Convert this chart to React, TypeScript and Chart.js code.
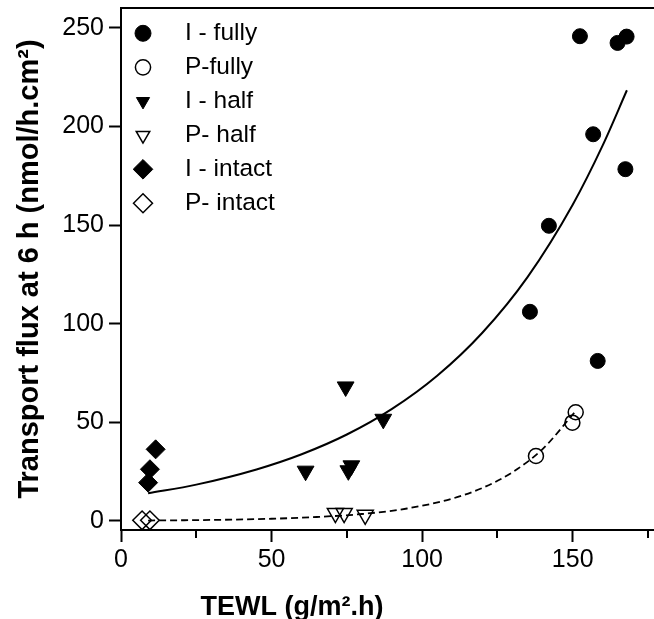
import React, { useEffect, useRef } from 'react';
import { Chart, registerables } from 'chart.js';

Chart.register(...registerables);

const FONT = "'Liberation Sans', Arial, Helvetica, sans-serif";

// ---- data ----
const iFullyX = [135.8, 142.1, 152.4, 156.8, 158.3, 164.9, 167.5, 167.9];
const iFullyY = [106.0, 149.6, 245.7, 196.0, 81.1, 242.3, 178.3, 245.5];
const pFullyX = [137.8, 149.9, 151.0];
const pFullyY = [32.9, 49.8, 55.1];
const iHalfX = [61.3, 74.6, 75.5, 76.5, 87.1];
const iHalfY = [25.3, 68.0, 25.5, 28.0, 51.6];
const pHalfX = [71.2, 74.1, 81.1];
const pHalfY = [3.9, 3.9, 3.0];
const iIntactX = [9.0, 9.6, 11.5];
const iIntactY = [19.4, 26.2, 36.3];
const pIntactX = [7.0, 9.6];
const pIntactY = [0.3, 0.3];

// fitted curves
const fitIX = [9, 25, 45, 60, 75, 90, 105, 120, 135, 150, 160, 168];
const fitIY = [14, 18.4, 26.1, 33.8, 43.8, 56.8, 73.6, 95.4, 123.6, 160.3, 190.5, 218.3];
const fitPX = [9, 30, 50, 65, 80, 95, 110, 120, 130, 140, 150.5];
const fitPY = [0.2, 0.5, 1.1, 2.0, 3.5, 6.3, 11.3, 16.7, 24.7, 36.4, 54.8];

const seriesLabels = ['I - fully', 'P-fully', 'I - half', 'P- half', 'I - intact', 'P- intact'];
const xTitle = 'TEWL (g/m\u00B2.h)';
const yTitle = 'Transport flux at 6 h (nmol/h.cm\u00B2)';

const xMin = 0;
const xMax = 177;
const xStep = 25;
const xLabelStep = 50;
const yMin = -4.6;
const yMax = 260;
const yStep = 50;

type Marker = {
  style: 'circle' | 'triangle' | 'rectRot';
  filled: boolean;
  rotation: number;
  radius: number;
  legendRadius: number;
};

const markers: Marker[] = [
  { style: 'circle', filled: true, rotation: 0, radius: 7.5, legendRadius: 8 },
  { style: 'circle', filled: false, rotation: 0, radius: 7.5, legendRadius: 7.6 },
  { style: 'triangle', filled: true, rotation: 180, radius: 9.7, legendRadius: 7.6 },
  { style: 'triangle', filled: false, rotation: 180, radius: 9.3, legendRadius: 7.8 },
  { style: 'rectRot', filled: true, rotation: 0, radius: 9.5, legendRadius: 9.8 },
  { style: 'rectRot', filled: false, rotation: 0, radius: 9.3, legendRadius: 9.5 },
];

const toPoints = (xs: number[], ys: number[]) => xs.map((x, i) => ({ x, y: ys[i] }));

function drawMarker(ctx: CanvasRenderingContext2D, m: Marker, x: number, y: number, r: number) {
  ctx.beginPath();
  if (m.style === 'circle') {
    ctx.arc(x, y, r, 0, Math.PI * 2);
  } else if (m.style === 'triangle') {
    let rad = (m.rotation * Math.PI) / 180;
    for (let k = 0; k < 3; k++) {
      const px = x + Math.sin(rad) * r;
      const py = y - Math.cos(rad) * r;
      if (k === 0) ctx.moveTo(px, py);
      else ctx.lineTo(px, py);
      rad += (2 * Math.PI) / 3;
    }
    ctx.closePath();
  } else {
    ctx.moveTo(x - r, y);
    ctx.lineTo(x, y - r);
    ctx.lineTo(x + r, y);
    ctx.lineTo(x, y + r);
    ctx.closePath();
  }
  if (m.filled) {
    ctx.fillStyle = '#000';
    ctx.fill();
  }
  ctx.lineWidth = m.filled ? 1 : 1.5;
  ctx.strokeStyle = '#000';
  ctx.stroke();
}

const zeroPadding = (s: any) => {
  s.paddingTop = 0;
  s.paddingBottom = 0;
  s.paddingLeft = 0;
  s.paddingRight = 0;
};

const framePlugin = {
  id: 'frameAndMinorTicks',
  afterDraw(chart: any) {
    const { ctx, chartArea: a, scales } = chart;
    ctx.save();
    ctx.strokeStyle = '#000';
    ctx.lineWidth = 2;
    ctx.beginPath();
    ctx.moveTo(a.left - 1, a.top);
    ctx.lineTo(a.right, a.top);
    const xs = scales.x;
    xs.ticks.forEach((t: any) => {
      if (t.value % xLabelStep !== 0) {
        const px = Math.round(xs.getPixelForValue(t.value));
        ctx.moveTo(px, a.bottom);
        ctx.lineTo(px, a.bottom + 8);
      }
    });
    ctx.stroke();

    // x-axis title
    ctx.font = `bold 27px ${FONT}`;
    ctx.fillStyle = '#000';
    ctx.textAlign = 'center';
    ctx.textBaseline = 'middle';
    ctx.fillText(xTitle, a.left + 171, chart.height - 11);
    ctx.restore();
  },
};

const legendPlugin = {
  id: 'insideLegend',
  afterDatasetsDraw(chart: any) {
    const { ctx, chartArea: a } = chart;
    ctx.save();
    seriesLabels.forEach((label, i) => {
      const cy = a.top + 25.3 + i * 34;
      drawMarker(ctx, markers[i], a.left + 22, cy, markers[i].legendRadius);
      ctx.font = `24.5px ${FONT}`;
      ctx.fillStyle = '#000';
      ctx.textAlign = 'left';
      ctx.textBaseline = 'middle';
      ctx.fillText(label, a.left + 64, cy);
    });
    ctx.restore();
  },
};

export default function App() {
  const ref = useRef<HTMLCanvasElement>(null);

  useEffect(() => {
    const canvas = ref.current;
    if (!canvas) return;
    const pointSets: [number[], number[]][] = [
      [iFullyX, iFullyY],
      [pFullyX, pFullyY],
      [iHalfX, iHalfY],
      [pHalfX, pHalfY],
      [iIntactX, iIntactY],
      [pIntactX, pIntactY],
    ];
    const datasets: any[] = pointSets.map((p, i) => ({
      label: seriesLabels[i],
      data: toPoints(p[0], p[1]),
      showLine: false,
      pointStyle: markers[i].style,
      pointRadius: markers[i].radius,
      pointRotation: markers[i].rotation,
      pointBackgroundColor: markers[i].filled ? '#000' : 'rgba(0,0,0,0)',
      pointBorderColor: '#000',
      pointBorderWidth: markers[i].filled ? 1 : 1.5,
    }));
    datasets.push({
      label: 'fit I',
      data: toPoints(fitIX, fitIY),
      showLine: true,
      borderColor: '#000',
      borderWidth: 2,
      pointRadius: 0,
      cubicInterpolationMode: 'monotone',
      fill: false,
    });
    datasets.push({
      label: 'fit P',
      data: toPoints(fitPX, fitPY),
      showLine: true,
      borderColor: '#000',
      borderWidth: 1.8,
      borderDash: [7, 4],
      pointRadius: 0,
      cubicInterpolationMode: 'monotone',
      fill: false,
    });

    const chart = new Chart(canvas, {
      type: 'scatter',
      data: { datasets },
      options: {
        responsive: false,
        animation: false,
        events: [],
        layout: { autoPadding: false, padding: { top: 8, left: 0, right: 0, bottom: 0 } },
        plugins: {
          legend: { display: false },
          tooltip: { enabled: false },
        },
        scales: {
          x: {
            type: 'linear',
            min: xMin,
            max: xMax,
            afterFit: (s: any) => {
              s.height = 89;
              zeroPadding(s);
            },
            ticks: {
              stepSize: xStep,
              includeBounds: false,
              autoSkip: false,
              maxRotation: 0,
              padding: 3,
              color: '#000',
              font: { family: FONT, size: 25 },
              callback: (v: any) => (Number(v) % xLabelStep === 0 ? String(v) : ''),
            },
            grid: {
              display: true,
              drawOnChartArea: false,
              drawTicks: true,
              tickLength: 12,
              tickWidth: 2,
              tickColor: (c: any) =>
                c.tick && c.tick.value % xLabelStep === 0 ? '#000' : 'rgba(0,0,0,0)',
            },
            border: { display: true, color: '#000', width: 2 },
          },
          y: {
            type: 'linear',
            min: yMin,
            max: yMax,
            afterFit: (s: any) => {
              s.width = 121;
              zeroPadding(s);
            },
            ticks: {
              stepSize: yStep,
              includeBounds: false,
              padding: 5,
              color: '#000',
              font: { family: FONT, size: 25 },
            },
            grid: {
              display: true,
              drawOnChartArea: false,
              drawTicks: true,
              tickLength: 12,
              tickWidth: 2,
              tickColor: '#000',
            },
            border: { display: true, color: '#000', width: 2 },
            title: {
              display: true,
              text: yTitle,
              color: '#000',
              padding: 0,
              font: { family: FONT, size: 29, weight: 'bold', lineHeight: '60px' },
            },
          },
        },
      } as any,
      plugins: [framePlugin, legendPlugin],
    });
    return () => chart.destroy();
  }, []);

  return (
    <div style={{ position: 'fixed', left: 0, top: 0, width: 654, height: 619, background: '#fff' }}>
      <canvas ref={ref} width={654} height={619} style={{ display: 'block', width: 654, height: 619 }} />
    </div>
  );
}
